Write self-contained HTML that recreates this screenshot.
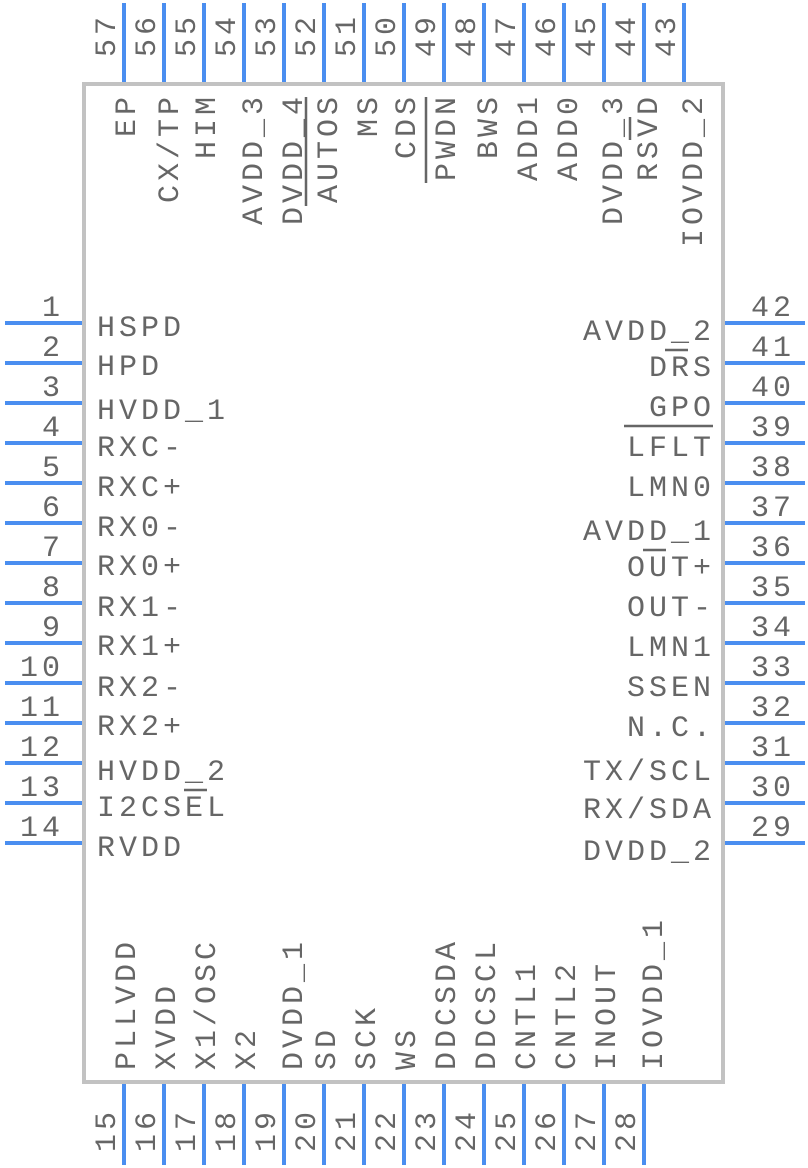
<!DOCTYPE html>
<html><head><meta charset="utf-8"><style>
html,body{margin:0;padding:0;background:#fff;}
svg{display:block}
text{font-family:"Liberation Mono",monospace;font-size:30px;letter-spacing:4px;fill:#666;}
</style></head><body>
<svg width="808" height="1168" viewBox="0 0 808 1168" xmlns="http://www.w3.org/2000/svg">
<rect x="84" y="84" width="639" height="998" fill="none" stroke="#c2c2c2" stroke-width="4"/>
<g stroke="#4a8ef0" stroke-width="4">
<!-- left -->
<line x1="5" y1="323" x2="82" y2="323"/><line x1="5" y1="363" x2="82" y2="363"/><line x1="5" y1="403" x2="82" y2="403"/><line x1="5" y1="443" x2="82" y2="443"/><line x1="5" y1="483" x2="82" y2="483"/><line x1="5" y1="523" x2="82" y2="523"/><line x1="5" y1="563" x2="82" y2="563"/><line x1="5" y1="603" x2="82" y2="603"/><line x1="5" y1="643" x2="82" y2="643"/><line x1="5" y1="683" x2="82" y2="683"/><line x1="5" y1="723" x2="82" y2="723"/><line x1="5" y1="763" x2="82" y2="763"/><line x1="5" y1="803" x2="82" y2="803"/><line x1="5" y1="843" x2="82" y2="843"/>
<!-- right -->
<line x1="725" y1="323" x2="805" y2="323"/><line x1="725" y1="363" x2="805" y2="363"/><line x1="725" y1="403" x2="805" y2="403"/><line x1="725" y1="443" x2="805" y2="443"/><line x1="725" y1="483" x2="805" y2="483"/><line x1="725" y1="523" x2="805" y2="523"/><line x1="725" y1="563" x2="805" y2="563"/><line x1="725" y1="603" x2="805" y2="603"/><line x1="725" y1="643" x2="805" y2="643"/><line x1="725" y1="683" x2="805" y2="683"/><line x1="725" y1="723" x2="805" y2="723"/><line x1="725" y1="763" x2="805" y2="763"/><line x1="725" y1="803" x2="805" y2="803"/><line x1="725" y1="843" x2="805" y2="843"/>
<!-- top -->
<line x1="124" y1="3" x2="124" y2="82"/><line x1="164" y1="3" x2="164" y2="82"/><line x1="204" y1="3" x2="204" y2="82"/><line x1="244" y1="3" x2="244" y2="82"/><line x1="284" y1="3" x2="284" y2="82"/><line x1="324" y1="3" x2="324" y2="82"/><line x1="364" y1="3" x2="364" y2="82"/><line x1="404" y1="3" x2="404" y2="82"/><line x1="444" y1="3" x2="444" y2="82"/><line x1="484" y1="3" x2="484" y2="82"/><line x1="524" y1="3" x2="524" y2="82"/><line x1="564" y1="3" x2="564" y2="82"/><line x1="604" y1="3" x2="604" y2="82"/><line x1="644" y1="3" x2="644" y2="82"/><line x1="684" y1="3" x2="684" y2="82"/>
<!-- bottom -->
<line x1="124" y1="1084" x2="124" y2="1165"/><line x1="164" y1="1084" x2="164" y2="1165"/><line x1="204" y1="1084" x2="204" y2="1165"/><line x1="244" y1="1084" x2="244" y2="1165"/><line x1="284" y1="1084" x2="284" y2="1165"/><line x1="324" y1="1084" x2="324" y2="1165"/><line x1="364" y1="1084" x2="364" y2="1165"/><line x1="404" y1="1084" x2="404" y2="1165"/><line x1="444" y1="1084" x2="444" y2="1165"/><line x1="484" y1="1084" x2="484" y2="1165"/><line x1="524" y1="1084" x2="524" y2="1165"/><line x1="564" y1="1084" x2="564" y2="1165"/><line x1="604" y1="1084" x2="604" y2="1165"/><line x1="644" y1="1084" x2="644" y2="1165"/>
</g>
<!-- left numbers -->
<g text-anchor="end">
<text x="64" y="316">1</text><text x="64" y="356">2</text><text x="64" y="396">3</text><text x="64" y="436">4</text><text x="64" y="476">5</text><text x="64" y="516">6</text><text x="64" y="556">7</text><text x="64" y="596">8</text><text x="64" y="636">9</text><text x="64" y="676">10</text><text x="64" y="716">11</text><text x="64" y="756">12</text><text x="64" y="796">13</text><text x="64" y="836">14</text>
</g>
<!-- right numbers -->
<g>
<text x="751" y="316">42</text><text x="751" y="356">41</text><text x="751" y="396">40</text><text x="751" y="436">39</text><text x="751" y="476">38</text><text x="751" y="516">37</text><text x="751" y="556">36</text><text x="751" y="596">35</text><text x="751" y="636">34</text><text x="751" y="676">33</text><text x="751" y="716">32</text><text x="751" y="756">31</text><text x="751" y="796">30</text><text x="751" y="836">29</text>
</g>
<!-- left names -->
<g>
<text x="97" y="336">HSPD</text><text x="97" y="375">HPD</text><text x="97" y="419">HVDD_1</text><text x="97" y="456">RXC-</text><text x="97" y="496">RXC+</text><text x="97" y="536">RX0-</text><text x="97" y="575">RX0+</text><text x="97" y="616">RX1-</text><text x="97" y="655">RX1+</text><text x="97" y="696">RX2-</text><text x="97" y="735">RX2+</text><text x="97" y="780">HVDD_2</text><text x="97" y="816">I2CSEL</text><text x="97" y="856">RVDD</text>
</g>
<!-- right names -->
<g text-anchor="end">
<text x="715" y="340">AVDD_2</text><text x="715" y="376">DRS</text><text x="715" y="416">GPO</text><text x="715" y="456">LFLT</text><text x="715" y="496">LMN0</text><text x="715" y="540">AVDD_1</text><text x="715" y="576">OUT+</text><text x="715" y="616">OUT-</text><text x="715" y="656">LMN1</text><text x="715" y="696">SSEN</text><text x="715" y="736">N.C.</text><text x="715" y="780">TX/SCL</text><text x="715" y="818">RX/SDA</text><text x="715" y="860">DVDD_2</text>
</g>
<!-- top numbers -->
<g text-anchor="end">
<text transform="translate(115,13) rotate(-90)">57</text><text transform="translate(155,13) rotate(-90)">56</text><text transform="translate(195,13) rotate(-90)">55</text><text transform="translate(235,13) rotate(-90)">54</text><text transform="translate(275,13) rotate(-90)">53</text><text transform="translate(315,13) rotate(-90)">52</text><text transform="translate(355,13) rotate(-90)">51</text><text transform="translate(395,13) rotate(-90)">50</text><text transform="translate(435,13) rotate(-90)">49</text><text transform="translate(475,13) rotate(-90)">48</text><text transform="translate(515,13) rotate(-90)">47</text><text transform="translate(555,13) rotate(-90)">46</text><text transform="translate(595,13) rotate(-90)">45</text><text transform="translate(635,13) rotate(-90)">44</text><text transform="translate(675,13) rotate(-90)">43</text>
</g>
<!-- top names -->
<g text-anchor="end">
<text transform="translate(135,93) rotate(-90)">EP</text>
<text transform="translate(178,93) rotate(-90)">CX/TP</text>
<text transform="translate(215,93) rotate(-90)">HIM</text>
<text transform="translate(262,93) rotate(-90)">AVDD_3</text>
<text transform="translate(302,93) rotate(-90)">DVDD_4</text>
<text transform="translate(337,93) rotate(-90)">AUTOS</text>
<text transform="translate(377,93) rotate(-90)">MS</text>
<text transform="translate(415,93) rotate(-90)">CDS</text>
<text transform="translate(455,93) rotate(-90)">PWDN</text>
<text transform="translate(497,93) rotate(-90)">BWS</text>
<text transform="translate(537,93) rotate(-90)">ADD1</text>
<text transform="translate(577,93) rotate(-90)">ADD0</text>
<text transform="translate(622,93) rotate(-90)">DVDD_3</text>
<text transform="translate(657,93) rotate(-90)">RSVD</text>
<text transform="translate(702,93) rotate(-90)">IOVDD_2</text>
</g>
<!-- bottom numbers -->
<g>
<text transform="translate(115,1152) rotate(-90)">15</text><text transform="translate(155,1152) rotate(-90)">16</text><text transform="translate(195,1152) rotate(-90)">17</text><text transform="translate(235,1152) rotate(-90)">18</text><text transform="translate(275,1152) rotate(-90)">19</text><text transform="translate(315,1152) rotate(-90)">20</text><text transform="translate(355,1152) rotate(-90)">21</text><text transform="translate(395,1152) rotate(-90)">22</text><text transform="translate(435,1152) rotate(-90)">23</text><text transform="translate(475,1152) rotate(-90)">24</text><text transform="translate(515,1152) rotate(-90)">25</text><text transform="translate(555,1152) rotate(-90)">26</text><text transform="translate(595,1152) rotate(-90)">27</text><text transform="translate(635,1152) rotate(-90)">28</text>
</g>
<!-- bottom names -->
<g>
<text transform="translate(135,1070) rotate(-90)">PLLVDD</text>
<text transform="translate(175,1070) rotate(-90)">XVDD</text>
<text transform="translate(215,1070) rotate(-90)">X1/OSC</text>
<text transform="translate(255,1070) rotate(-90)">X2</text>
<text transform="translate(302,1070) rotate(-90)">DVDD_1</text>
<text transform="translate(335,1070) rotate(-90)">SD</text>
<text transform="translate(375,1070) rotate(-90)">SCK</text>
<text transform="translate(415,1070) rotate(-90)">WS</text>
<text transform="translate(455,1070) rotate(-90)">DDCSDA</text>
<text transform="translate(495,1070) rotate(-90)">DDCSCL</text>
<text transform="translate(535,1070) rotate(-90)">CNTL1</text>
<text transform="translate(575,1070) rotate(-90)">CNTL2</text>
<text transform="translate(615,1070) rotate(-90)">INOUT</text>
<text transform="translate(662,1070) rotate(-90)">IOVDD_1</text>
</g>
<!-- overlines -->
<g stroke="#666" stroke-width="2.5">
<line x1="665" y1="350" x2="688" y2="350"/>
<line x1="624" y1="426" x2="713" y2="426"/>
<line x1="643" y1="550" x2="666" y2="550"/>
<line x1="184" y1="790" x2="207" y2="790"/>
<line x1="306" y1="97" x2="306" y2="206"/>
<line x1="426" y1="97" x2="426" y2="183"/>
<line x1="630" y1="117" x2="630" y2="140"/>
</g>
</svg>
</body></html>
